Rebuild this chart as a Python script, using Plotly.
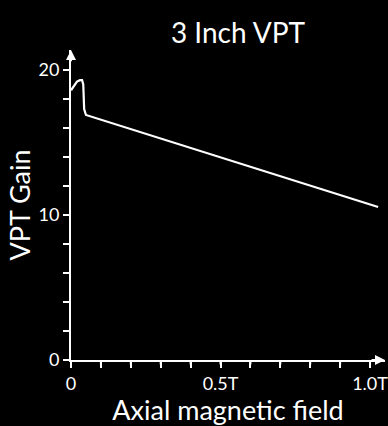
import plotly.graph_objects as go

field_T = [0.0, 0.01, 0.02, 0.03, 0.037, 0.041, 0.044, 0.05, 0.55, 1.027]
vpt_gain = [18.6, 18.9, 19.2, 19.3, 19.3, 19.0, 17.3, 16.9, 13.65, 10.55]

x_ticks = [0, 0.1, 0.2, 0.3, 0.4, 0.5, 0.6, 0.7, 0.8, 0.9, 1.0]
x_labels = ["0", "", "", "", "", "0.5T", "", "", "", "", "1.0T"]
y_ticks = [0, 2, 4, 6, 8, 10, 12, 14, 16, 18, 20]
y_labels = ["0", "", "", "", "", "10", "", "", "", "", "20"]

FONT = "Lato"
TICK_LEN = 6

fig = go.Figure()
fig.add_trace(go.Scatter(x=field_T, y=vpt_gain, mode="lines",
                         line=dict(color="white", width=2.2), hoverinfo="skip",
                         cliponaxis=False))

fig.update_layout(
    width=388, height=426,
    paper_bgcolor="black", plot_bgcolor="black",
    margin=dict(l=71, r=3, t=50, b=66, autoexpand=False),
    showlegend=False,
    title=dict(text="3 Inch VPT", x=238 / 388, xanchor="center", y=1 - 33 / 426, yanchor="middle",
               font=dict(family=FONT, size=28, color="white")),
    font=dict(family=FONT, color="white"),
)
axis_common = dict(
    showgrid=False, zeroline=False, automargin=False,
    showline=True, linecolor="white", linewidth=2,
    tickmode="array", ticklabeloverflow="allow",
    ticks="outside", ticklen=TICK_LEN, tickwidth=2, tickcolor="white",
    tickfont=dict(family=FONT, size=18, color="white"),
)
fig.update_layout(
    xaxis=dict(range=[0, 1.05], tickvals=x_ticks, ticktext=x_labels,
               title=dict(text="Axial magnetic field",
                          font=dict(family=FONT, size=27, color="white"), standoff=4),
               **axis_common),
    yaxis=dict(range=[0, 21.38], tickvals=y_ticks, ticktext=y_labels,
               title=dict(text="VPT Gain",
                          font=dict(family=FONT, size=27, color="white"), standoff=0),
               **axis_common),
)

# tick marks drawn as headless annotation arrows (not clipped to the plot area)
for v in x_ticks:
    fig.add_annotation(x=v, y=0, xref="x", yref="y", ax=0, ay=TICK_LEN, text="",
                       showarrow=True, arrowhead=0, arrowwidth=2, arrowcolor="white",
                       standoff=0, startstandoff=0)
for v in y_ticks:
    fig.add_annotation(x=0, y=v, xref="x", yref="y", ax=-TICK_LEN, ay=0, text="",
                       showarrow=True, arrowhead=0, arrowwidth=2, arrowcolor="white",
                       standoff=0, startstandoff=0)

# axis arrowheads
fig.add_annotation(x=1.05, y=0, ax=1.0, ay=0, xref="x", yref="y", axref="x", ayref="y",
                   text="", showarrow=True, arrowhead=2, arrowsize=1, arrowwidth=2,
                   arrowcolor="white")
fig.add_annotation(x=0, y=21.38, ax=0, ay=20.5, xref="x", yref="y", axref="x", ayref="y",
                   text="", showarrow=True, arrowhead=2, arrowsize=1, arrowwidth=2,
                   arrowcolor="white")

fig.write_html("out.html", config={"displayModeBar": False},
               post_script="document.body.style.margin='0';document.body.style.background='black';")
